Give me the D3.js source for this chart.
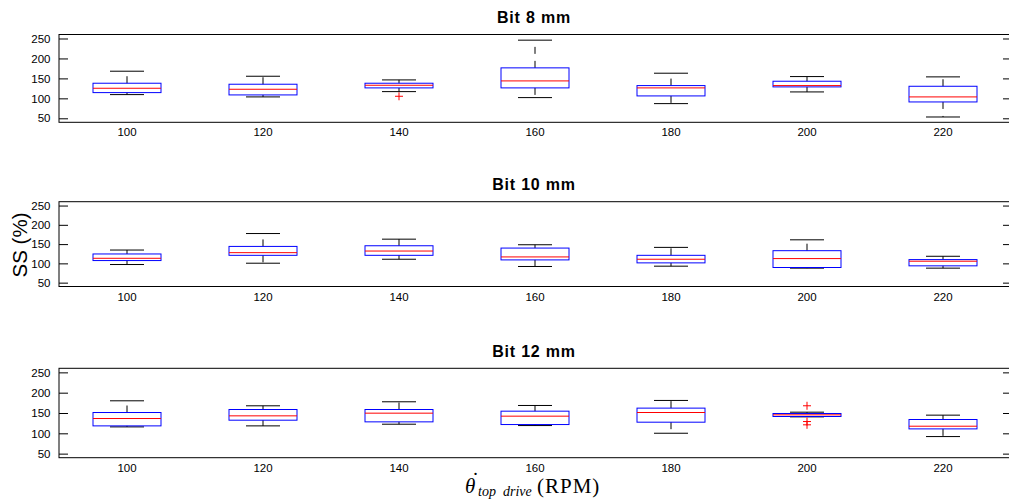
<!DOCTYPE html>
<html>
<head>
<meta charset="utf-8">
<script src="https://cdn.jsdelivr.net/npm/d3@7/dist/d3.min.js"></script>
<style>
  html, body { margin: 0; padding: 0; background: #fff; }
  svg { display: block; }
  .tick text { font-family: "Liberation Sans", Arial, sans-serif; font-size: 11.5px; fill: #000; }
</style>
</head>
<body>
<svg id="chart" width="1009" height="502"></svg>
<script>
// ---- data ----
const categories = ["100", "120", "140", "160", "180", "200", "220"];
const yTicks = [50, 100, 150, 200, 250];
const panelTitles = ["Bit 8 mm", "Bit 10 mm", "Bit 12 mm"];

// Bit 8 mm
const lo8  = [109.4, 103.6, 116.9, 101.9, 86.8, 116.1, 53.3];
const q1_8 = [114.4, 108.6, 126.2, 126.2, 106.1, 128.7, 91.0];
const med8 = [125.3, 122.8, 132.8, 143.7, 126.2, 132.0, 103.6];
const q3_8 = [137.9, 135.4, 137.9, 176.4, 132.0, 142.9, 130.3];
const hi8  = [168.0, 155.4, 146.2, 245.8, 163.0, 154.6, 153.8];
const out8 = [[], [], [105.2], [], [], [], []];

// Bit 10 mm
const lo10  = [97.0, 100.4, 110.7, 91.9, 92.7, 87.6, 87.6];
const q1_10 = [107.3, 120.9, 120.9, 109.0, 101.3, 89.3, 93.6];
const med10 = [113.2, 127.8, 132.0, 116.7, 110.7, 112.4, 105.6];
const q3_10 = [124.4, 144.0, 145.7, 139.7, 120.9, 132.9, 109.8];
const hi10  = [134.6, 177.4, 162.8, 148.3, 141.5, 161.1, 118.4];
const out10 = [[], [], [], [], [], [], []];

// Bit 12 mm
const lo12  = [115.8, 118.3, 122.4, 119.1, 100.2, 140.5, 92.0];
const q1_12 = [118.3, 132.3, 128.2, 121.6, 127.4, 141.4, 110.9];
const med12 = [136.4, 143.0, 149.6, 142.2, 151.2, 145.5, 117.5];
const q3_12 = [151.2, 158.6, 158.6, 154.5, 162.0, 148.8, 134.0];
const hi12  = [180.0, 167.7, 177.6, 168.5, 180.9, 152.0, 144.7];
const out12 = [[], [], [], [], [], [167.8, 129.0, 120.9], []];

const panelData = [
  {lo: lo8, q1: q1_8, med: med8, q3: q3_8, hi: hi8, out: out8},
  {lo: lo10, q1: q1_10, med: med10, q3: q3_10, hi: hi10, out: out10},
  {lo: lo12, q1: q1_12, med: med12, q3: q3_12, hi: hi12, out: out12}
];

// ---- layout ----
const svg = d3.select("#chart");
const left = 59, right = 1011;
const panelBoxes = [
  {top: 34.5, bottom: 122.3},
  {top: 201.7, bottom: 286.5},
  {top: 368.3, bottom: 457.7}
];

const x = d3.scaleBand().domain(categories).range([left, right]).paddingInner(0).paddingOuter(0);
const bw = x.bandwidth();
const boxW = bw * 0.5, capW = bw * 0.25;

panelBoxes.forEach((pb, pi) => {
  const d = panelData[pi];
  const y = d3.scaleLinear().domain([40, 260]).range([pb.bottom, pb.top]);
  const g = svg.append("g");

  // title
  g.append("text")
    .attr("x", (left + right) / 2 - 1)
    .attr("y", pb.top - 11.5)
    .attr("text-anchor", "middle")
    .attr("font-family", "Liberation Sans, Arial, sans-serif")
    .attr("font-weight", "bold")
    .attr("font-size", 16)
    .attr("letter-spacing", 0.8)
    .text(panelTitles[pi]);

  // axes
  const yl = g.append("g").attr("transform", `translate(${left},0)`)
    .call(d3.axisLeft(y).tickValues(yTicks).tickSize(-9).tickPadding(8.5));
  yl.select(".domain").remove();
  yl.selectAll(".tick line").attr("stroke", "#000");

  const yr = g.append("g").attr("transform", `translate(${right},0)`)
    .call(d3.axisRight(y).tickValues(yTicks).tickSize(-8).tickFormat(""));
  yr.select(".domain").remove();
  yr.selectAll(".tick line").attr("stroke", "#000");

  const xa = g.append("g").attr("transform", `translate(0,${pb.bottom})`)
    .call(d3.axisBottom(x).tickSize(0).tickPadding(6));
  xa.select(".domain").remove();

  // border
  g.append("rect")
    .attr("x", left).attr("y", pb.top)
    .attr("width", right - left).attr("height", pb.bottom - pb.top)
    .attr("fill", "none").attr("stroke", "#000").attr("stroke-width", 1);

  const cx = c => x(c) + bw / 2;

  categories.forEach((c, i) => {
    const xc = cx(c);
    // whiskers (dashed)
    g.append("line").attr("x1", xc).attr("x2", xc)
      .attr("y1", y(d.q3[i])).attr("y2", y(d.hi[i]))
      .attr("stroke", "#000").attr("stroke-dasharray", "7,7");
    g.append("line").attr("x1", xc).attr("x2", xc)
      .attr("y1", y(d.q1[i])).attr("y2", y(d.lo[i]))
      .attr("stroke", "#000").attr("stroke-dasharray", "7,7");
    // caps
    g.append("line").attr("x1", xc - capW / 2).attr("x2", xc + capW / 2)
      .attr("y1", y(d.hi[i])).attr("y2", y(d.hi[i])).attr("stroke", "#000");
    g.append("line").attr("x1", xc - capW / 2).attr("x2", xc + capW / 2)
      .attr("y1", y(d.lo[i])).attr("y2", y(d.lo[i])).attr("stroke", "#000");
    // box
    g.append("rect")
      .attr("x", xc - boxW / 2).attr("width", boxW)
      .attr("y", y(d.q3[i])).attr("height", y(d.q1[i]) - y(d.q3[i]))
      .attr("fill", "none").attr("stroke", "#0000ff");
    // median
    g.append("line").attr("x1", xc - boxW / 2).attr("x2", xc + boxW / 2)
      .attr("y1", y(d.med[i])).attr("y2", y(d.med[i])).attr("stroke", "#ff0000");
    // outliers
    d.out[i].forEach(v => {
      const yy = y(v);
      g.append("path")
        .attr("d", `M${xc - 4},${yy}H${xc + 4}M${xc},${yy - 4}V${yy + 4}`)
        .attr("stroke", "#ff0000").attr("fill", "none");
    });
  });
});

// y label
svg.append("text")
  .attr("transform", "translate(26.5,245) rotate(-90)")
  .attr("text-anchor", "middle")
  .attr("font-family", "Liberation Sans, Arial, sans-serif")
  .attr("font-size", 20.5)
  .text("SS (%)");

// x label
const serif = "Liberation Serif, Times New Roman, serif";
const xl = svg.append("text")
  .attr("font-family", serif)
  .attr("fill", "#000");
xl.append("tspan").attr("x", 465).attr("y", 493).attr("font-style", "italic").attr("font-size", 21).text("\u03B8");
xl.append("tspan").attr("x", 472).attr("y", 486.5).attr("font-size", 21).text("\u02D9");
xl.append("tspan").attr("x", 478).attr("y", 496).attr("font-style", "italic").attr("font-size", 14).text("top");
xl.append("tspan").attr("x", 503).attr("y", 496).attr("font-style", "italic").attr("font-size", 14).text("drive");
xl.append("tspan").attr("x", 537).attr("y", 493).attr("font-size", 21).attr("letter-spacing", 1).text("(RPM)");
</script>
</body>
</html>
